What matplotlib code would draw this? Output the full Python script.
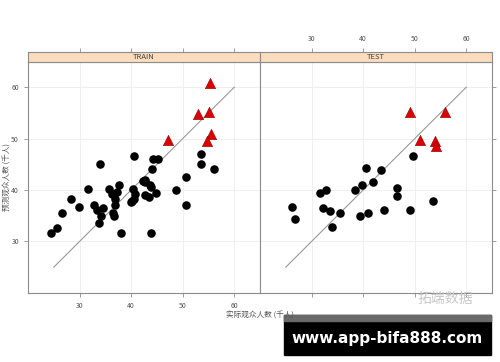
import matplotlib.pyplot as plt
import matplotlib.patches as mpatches

plt.rcParams["font.family"] = ["Noto Sans CJK SC", "DejaVu Sans"]
plt.rcParams["axes.unicode_minus"] = False

# 训练集：普通点 / 红色三角（偏差大）
train_x = [33.9, 40.5, 44.2, 45.3, 53.5, 53.5, 56.1, 44.1, 50.6, 42.6,
           31.7, 28.4, 29.8, 26.5, 25.7, 24.4, 32.8, 33.4, 34.1, 33.7,
           34.6, 35.7, 36.2, 37.6, 37.2, 36.8, 36.9, 36.4, 36.7, 38.1,
           40.3, 40.7, 40.2, 40.0, 40.5, 42.4, 42.6, 43.7, 43.9, 42.6,
           43.4, 44.8, 43.9, 48.8, 50.6]
train_y = [45.0, 46.7, 46.0, 46.0, 47.1, 45.0, 44.0, 44.0, 42.6, 42.0,
           40.3, 38.3, 36.7, 35.5, 32.7, 31.6, 37.0, 36.1, 34.9, 33.5,
           36.6, 40.3, 39.2, 41.0, 39.7, 38.3, 37.1, 35.5, 34.9, 31.6,
           40.3, 39.2, 37.9, 37.6, 38.2, 41.8, 41.5, 41.0, 40.6, 39.0,
           38.6, 39.5, 31.6, 40.0, 37.0]
train_tri_x = [55.3, 52.9, 55.1, 47.2, 55.4, 54.8]
train_tri_y = [60.9, 54.8, 55.2, 49.8, 50.9, 49.5]

# 测试集
test_x = [49.7, 40.6, 43.5, 41.9, 39.7, 38.4, 46.5, 46.5, 32.8, 31.6,
          26.3, 26.8, 32.2, 33.5, 34.0, 35.6, 39.3, 40.9, 44.0, 49.1, 53.5]
test_y = [46.7, 44.3, 43.9, 41.5, 41.0, 40.0, 40.4, 38.8, 40.1, 39.5,
          36.7, 34.4, 36.6, 35.9, 32.8, 35.5, 34.9, 35.5, 36.1, 36.1, 37.8]
test_tri_x = [49.0, 55.9, 51.1, 54.0, 54.2]
test_tri_y = [55.2, 55.2, 49.8, 49.6, 48.5]

ref_line = [25, 60]
ticks = [30, 40, 50, 60]
panels = [("TRAIN", train_x, train_y, train_tri_x, train_tri_y),
          ("TEST", test_x, test_y, test_tri_x, test_tri_y)]

fig = plt.figure(figsize=(5.0, 3.62), dpi=100)
frame_col = "#8c8c8c"
lab_col = "#555555"

left, width, bottom, height = 0.056, 0.464, 0.191, 0.639
strip_h = 0.026

for i, (name, xs, ys, tx, ty) in enumerate(panels):
    ax = fig.add_axes([left + i * width, bottom, width, height])
    ax.set_xlim(20, 65)
    ax.set_ylim(20, 65)
    ax.set_xticks(ticks)
    ax.set_yticks(ticks)
    ax.grid(True, color="#ececec", linewidth=0.6)
    ax.set_axisbelow(True)
    ax.plot(ref_line, ref_line, color="#999999", linewidth=0.8, zorder=2)
    ax.scatter(xs, ys, s=38, color="black", zorder=3, linewidths=0)
    ax.scatter(tx, ty, s=55, marker="^", color="#dd0000",
               edgecolors="#880000", linewidths=0.4, zorder=4)
    for sp in ax.spines.values():
        sp.set_color(frame_col)
        sp.set_linewidth(0.8)
    ax.tick_params(direction="out", length=3, width=0.6, color=frame_col,
                   labelsize=5, labelcolor=lab_col)
    if i == 0:
        ax.tick_params(left=True, labelleft=True, bottom=True, labelbottom=True,
                       right=False, top=False)
    else:
        ax.tick_params(left=False, labelleft=False, bottom=True, labelbottom=False,
                       right=True, labelright=False, top=False)

    # 标题条
    sax = fig.add_axes([left + i * width, bottom + height, width, strip_h])
    sax.set_xlim(20, 65)
    sax.set_facecolor("#fbdcbc")
    sax.set_yticks([])
    sax.set_xticks(ticks)
    sax.tick_params(axis="x", direction="out", length=3, width=0.6, color=frame_col,
                    bottom=False, labelbottom=False, top=True,
                    labeltop=(i == 1), labelsize=5, labelcolor=lab_col)
    for sp in sax.spines.values():
        sp.set_color(frame_col)
        sp.set_linewidth(0.8)
    sax.text(0.5, 0.45, name, transform=sax.transAxes, ha="center", va="center",
             fontsize=5.5, color="#444444")

fig.text(0.52, 0.128, "实际观众人数 (千人)", ha="center", va="center",
         fontsize=5.5, color=lab_col)
fig.text(0.016, 0.51, "预测观众人数 (千人)", ha="center", va="center",
         rotation=90, fontsize=5.5, color=lab_col)

# 水印
fig.text(0.89, 0.175, "拓端数据", ha="center", va="center",
         fontsize=10, color="#c8c8c8")

# 底部横幅
fig.patches.append(mpatches.Rectangle((0.568, 0.02), 0.414, 0.11,
                                      transform=fig.transFigure, color="black"))
fig.patches.append(mpatches.Rectangle((0.568, 0.113), 0.414, 0.017,
                                      transform=fig.transFigure, color="#6a6a6a"))
fig.text(0.775, 0.066, "www.app-bifa888.com", ha="center", va="center",
         fontsize=11, color="white", fontweight="bold", family=["DejaVu Sans"])

fig.savefig("out.png", dpi=100)
